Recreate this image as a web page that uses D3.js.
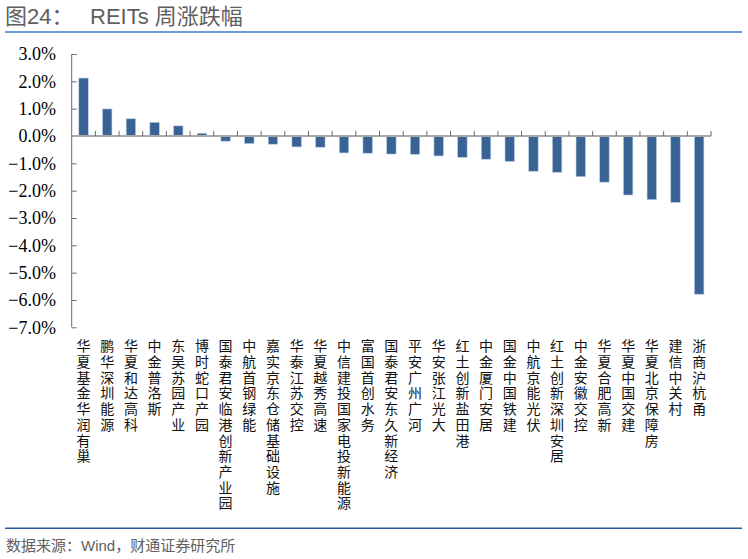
<!DOCTYPE html>
<html>
<head>
<meta charset="utf-8">
<script src="https://cdn.jsdelivr.net/npm/d3@7"></script>
<style>
  body { margin: 0; background: #fff; }
  svg { display: block; }
</style>
</head>
<body>
<div id="chart"></div>
<script>
// REITs weekly change, %
const names = [
  '华夏基金华润有巢', '鹏华深圳能源', '华夏和达高科', '中金普洛斯', '东吴苏园产业',
  '博时蛇口产园', '国泰君安临港创新产业园', '中航首钢绿能', '嘉实京东仓储基础设施',
  '华泰江苏交控', '华夏越秀高速', '中信建投国家电投新能源', '富国首创水务',
  '国泰君安东久新经济', '平安广州广河', '华安张江光大', '红土创新盐田港',
  '中金厦门安居', '国金中国铁建', '中航京能光伏', '红土创新深圳安居',
  '中金安徽交控', '华夏合肥高新', '华夏中国交建', '华夏北京保障房',
  '建信中关村', '浙商沪杭甬'
];
const changes = [
  2.12, 0.99, 0.63, 0.50, 0.37,
  0.10, -0.19, -0.28, -0.30,
  -0.40, -0.41, -0.62, -0.63,
  -0.66, -0.67, -0.73, -0.78,
  -0.85, -0.93, -1.29, -1.33,
  -1.49, -1.69, -2.16, -2.33,
  -2.43, -5.79
];
const yTicks = [3, 2, 1, 0, -1, -2, -3, -4, -5, -6, -7];

const data = names.map((n, i) => ({name: n, value: changes[i]}));

const W = 748, H = 559;
const plot = {left: 71.7, right: 711, top: 54, bottom: 327.3};

const svg = d3.select('#chart')
  .append('svg')
  .attr('width', W)
  .attr('height', H);

// title + rules
svg.append('text')
  .attr('x', 5)
  .attr('y', 24)
  .style('font-family', 'Arial, "Liberation Sans", "Noto Sans CJK SC", sans-serif')
  .style('font-size', '22px')
  .style('fill', '#5f5f5f')
  .text('图24：')
  .append('tspan')
  .attr('x', 90)
  .text('REITs 周涨跌幅');

svg.append('line')
  .attr('x1', 5).attr('x2', 742)
  .attr('y1', 32).attr('y2', 32)
  .style('stroke', '#3f7cc4')
  .style('stroke-width', 1.5);

svg.append('line')
  .attr('x1', 5).attr('x2', 742)
  .attr('y1', 528.3).attr('y2', 528.3)
  .style('stroke', '#2d5e9e')
  .style('stroke-width', 1.5);

svg.append('text')
  .attr('x', 6)
  .attr('y', 551)
  .style('font-family', 'Arial, "Liberation Sans", "Noto Sans CJK SC", sans-serif')
  .style('font-size', '15px')
  .style('fill', '#606060')
  .text('数据来源：Wind，财通证券研究所');

const x = d3.scaleBand()
  .domain(names)
  .range([plot.left, plot.right])
  .paddingInner(0.6)
  .paddingOuter(0.3);

const y = d3.scaleLinear()
  .domain([-7, 3])
  .range([plot.bottom, plot.top]);

// y axis
const yAxis = svg.append('g')
  .attr('transform', `translate(${plot.left},0)`)
  .call(d3.axisRight(y)
    .tickValues(yTicks)
    .tickSize(5)
    .tickFormat(''));
yAxis.select('.domain').attr('d', `M0,${plot.top}V${plot.bottom}`).style('stroke', '#6b6b6b');
yAxis.selectAll('.tick line').style('stroke', '#6b6b6b');

svg.append('g')
  .selectAll('text')
  .data(yTicks)
  .enter().append('text')
    .attr('x', 56)
    .attr('y', d => y(d))
    .attr('dy', '0.35em')
    .attr('text-anchor', 'end')
    .style('font-family', '"Times New Roman", "Liberation Serif", serif')
    .style('font-size', '18px')
    .style('fill', '#000')
    .text(d => d3.format('.1f')(d) + '%');

// bars
svg.append('g')
  .selectAll('rect')
  .data(data)
  .enter().append('rect')
    .attr('x', d => x(d.name))
    .attr('y', d => y(Math.max(0, d.value)))
    .attr('width', x.bandwidth())
    .attr('height', d => Math.abs(y(d.value) - y(0)))
    .style('fill', '#3a6395')
    .style('stroke', '#b9cde6')
    .style('stroke-width', 0.6);

// zero line with category separators
const step = x.step();
const sep = d3.range(names.length + 1).map(i => plot.left + i * step);
svg.append('line')
  .attr('x1', plot.left).attr('x2', plot.right)
  .attr('y1', y(0)).attr('y2', y(0))
  .style('stroke', '#a8a8a8')
  .style('stroke-width', 1.8);
svg.append('g')
  .selectAll('line')
  .data(sep.slice(1))
  .enter().append('line')
    .attr('x1', d => d).attr('x2', d => d)
    .attr('y1', y(0) - 5).attr('y2', y(0))
    .style('stroke', '#6b6b6b')
    .style('stroke-width', 1);

// vertical category labels
svg.append('g')
  .selectAll('text')
  .data(data)
  .enter().append('text')
    .attr('x', d => x(d.name) + x.bandwidth() / 2)
    .attr('y', 339)
    .style('writing-mode', 'vertical-rl')
    .style('text-orientation', 'upright')
    .style('letter-spacing', '1.7px')
    .style('font-family', '"Noto Sans CJK SC", sans-serif')
    .style('font-size', '14px')
    .style('fill', '#111')
    .text(d => d.name);
</script>
</body>
</html>
